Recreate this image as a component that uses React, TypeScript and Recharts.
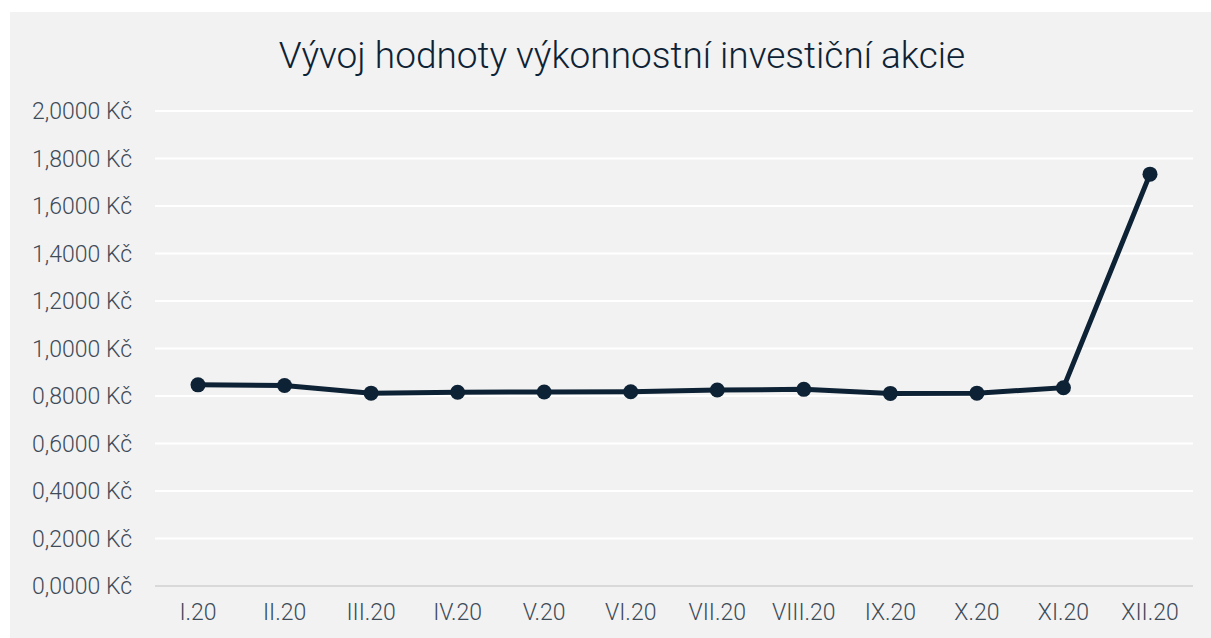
import React from "react";
import { LineChart, Line, XAxis, YAxis, CartesianGrid } from "recharts";

const months = ["I.20", "II.20", "III.20", "IV.20", "V.20", "VI.20", "VII.20", "VIII.20", "IX.20", "X.20", "XI.20", "XII.20"];
const values = [0.847, 0.844, 0.812, 0.816, 0.817, 0.818, 0.825, 0.828, 0.811, 0.812, 0.835, 1.734];
const yTicks = [0, 0.2, 0.4, 0.6, 0.8, 1.0, 1.2, 1.4, 1.6, 1.8, 2.0];

const data = months.map((m, i) => ({ month: m, value: values[i] }));

const fmt = (v: number) => v.toFixed(4).replace(".", ",") + " Kč";

const FONT = "Roboto, 'Noto Sans', sans-serif";
const NAVY = "#0e2235";

export default function App() {
  return (
    <div style={{ position: "fixed", left: 0, top: 0, width: 1211, height: 638, background: "#fff" }}>
      <div style={{ position: "absolute", left: 10, top: 12, width: 1201, height: 626, background: "#f2f2f2" }}>
        <LineChart width={1201} height={626} data={data} margin={{ top: 99, right: 18, bottom: 0, left: 0 }}>
          <CartesianGrid vertical={false} stroke="#ffffff" strokeWidth={2} />
          <XAxis
            dataKey="month"
            height={52}
            padding={{ left: 43, right: 43 }}
            tickLine={false}
            tickSize={0}
            tickMargin={18}
            axisLine={{ stroke: "#d9d9d9", strokeWidth: 2 }}
            tick={{ fill: "#3e4b59", fontSize: 23, fontFamily: FONT, fontWeight: 300 }}
            interval={0}
          />
          <YAxis
            width={145}
            domain={[0, 2]}
            ticks={yTicks}
            tickFormatter={fmt}
            axisLine={false}
            tickLine={false}
            tickSize={0}
            tickMargin={23}
            tick={{ fill: "#3e4b59", fontSize: 23, fontFamily: FONT, fontWeight: 300 }}
          />
          <Line
            type="linear"
            dataKey="value"
            stroke={NAVY}
            strokeWidth={5}
            dot={{ r: 7.5, fill: NAVY, stroke: NAVY, strokeWidth: 0 }}
            activeDot={false}
            isAnimationActive={false}
          />
        </LineChart>
      </div>
      <svg width={1211} height={638} style={{ position: "absolute", left: 0, top: 0, pointerEvents: "none" }}>
        <text x={622} y={68} textAnchor="middle" fill={NAVY} fontSize={37} fontFamily={FONT} fontWeight={300}>
          Vývoj hodnoty výkonnostní investiční akcie
        </text>
      </svg>
    </div>
  );
}
